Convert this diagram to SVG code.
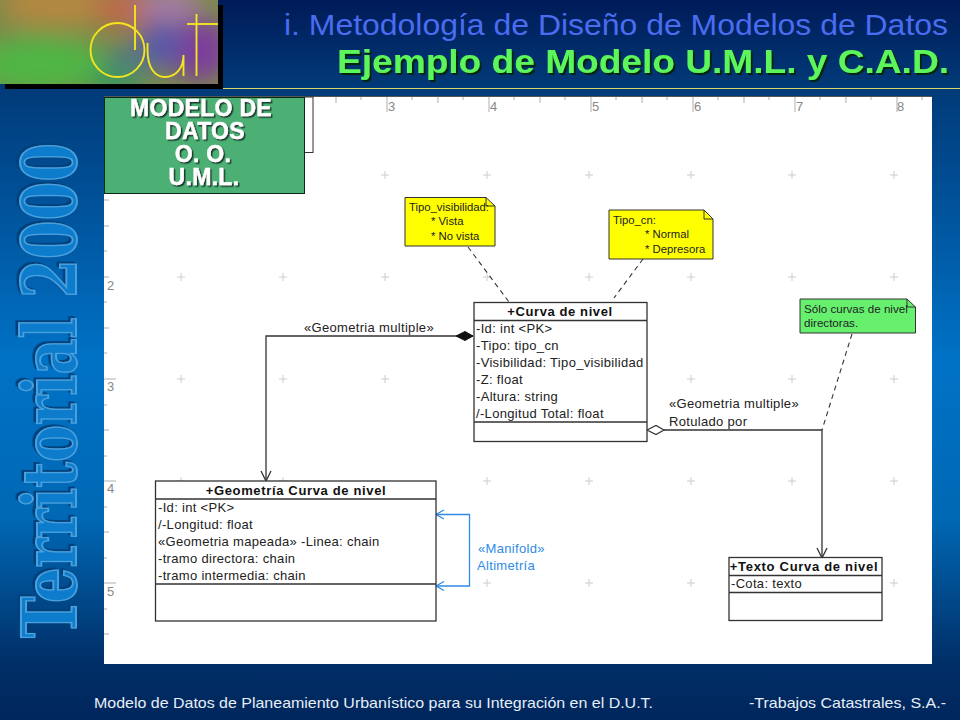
<svg xmlns="http://www.w3.org/2000/svg" width="960" height="720" viewBox="0 0 960 720">
<style>
text{font-family:"Liberation Sans",Arial,sans-serif}
.box{fill:#fff;stroke:#333;stroke-width:1.3}
.sep{stroke:#333;stroke-width:1.3;fill:none}
.t{font-size:13px;fill:#222;letter-spacing:.32px}
.h{font-size:13px;font-weight:bold;fill:#111;text-anchor:middle}
.n{font-size:11.3px;fill:#222}
.link{stroke:#333;stroke-width:1.3;fill:none}
.dash{stroke:#333;stroke-width:1.1;fill:none;stroke-dasharray:5 4}
.blue{stroke:#2f8be6;stroke-width:1.3;fill:none}
.rul{stroke:#999;stroke-width:.8;fill:none}
.rn{font-size:13px;fill:#888}
.plus{stroke:#ccc;stroke-width:1;fill:none}
.mod{font-size:23px;font-weight:bold;fill:#fff;text-anchor:middle;stroke:#fff;stroke-width:.4;letter-spacing:.3px;filter:url(#ds)}
.wm{font-family:"DejaVu Serif","Liberation Serif",serif;font-weight:bold;font-size:74px;fill:#0a7ccc;stroke:#4aa0dc;stroke-width:1.8;filter:url(#dw)}
.ttl{font-size:33.5px;font-weight:bold;fill:#5cf55c;text-anchor:end;filter:url(#dt)}
</style>
<defs>
<linearGradient id="bg" x1="0" y1="0" x2="0" y2="1">
<stop offset="0" stop-color="#001a58"/>
<stop offset=".12" stop-color="#013a78"/>
<stop offset=".5" stop-color="#0072c6"/>
<stop offset=".72" stop-color="#0068b4"/>
<stop offset=".92" stop-color="#012f68"/>
<stop offset="1" stop-color="#00265c"/>
</linearGradient>
<filter id="b" x="-30%" y="-30%" width="160%" height="160%"><feGaussianBlur stdDeviation="12"/></filter>
<filter id="ds" x="-10%" y="-10%" width="120%" height="130%"><feDropShadow dx="1.500" dy="1.500" stdDeviation=".3" flood-color="#12382a"/></filter>
<filter id="dt" x="-5%" y="-10%" width="110%" height="130%"><feDropShadow dx="2" dy="2" stdDeviation=".3" flood-color="#04280f"/></filter>
<filter id="dw" x="-5%" y="-15%" width="110%" height="130%"><feDropShadow dx="2.500" dy="-2.500" stdDeviation=".6" flood-color="#013f7c"/></filter>
<clipPath id="logo"><rect x="0" y="0" width="218" height="84"/></clipPath>
</defs>
<rect width="960" height="720" fill="url(#bg)"/>
<rect x="5" y="5" width="218" height="84" fill="#000"/>
<g clip-path="url(#logo)">
<rect width="218" height="84" fill="#7c8a4a"/>
<g filter="url(#b)">
<ellipse cx="60" cy="5" rx="60" ry="20" fill="#b8883f"/>
<ellipse cx="125" cy="8" rx="32" ry="20" fill="#c0694a"/>
<ellipse cx="40" cy="65" rx="65" ry="28" fill="#4fb645"/>
<ellipse cx="115" cy="82" rx="28" ry="12" fill="#2f9a5a"/>
<ellipse cx="170" cy="5" rx="32" ry="16" fill="#a87ca8"/>
<ellipse cx="200" cy="50" rx="30" ry="32" fill="#7d3c9c"/>
<ellipse cx="160" cy="45" rx="22" ry="26" fill="#5a58a8"/>
<ellipse cx="125" cy="60" rx="18" ry="14" fill="#4d7a80"/>
</g>
<g fill="none" stroke="#f3e51e" stroke-width="1.900">
<circle cx="117.500" cy="50" r="27"/>
<path d="M135 5V50"/>
<path d="M147.500 43V50C147.500 68 155 77 165 77C176 77 183.500 68 183.500 55V76"/>
<path d="M196.500 14V76"/>
<path d="M187 24H218"/>
</g>
</g>
<path d="M223 88.500H960" stroke="#d6d86a" stroke-width="1.2"/>
<g id="title">
<text x="948" y="35" text-anchor="end" font-size="29" fill="#4a6cf0" textLength="664" lengthAdjust="spacingAndGlyphs">i. Metodología de Diseño de Modelos de Datos</text>
<text class="ttl" x="949" y="73" textLength="612" lengthAdjust="spacingAndGlyphs">Ejemplo de Modelo U.M.L. y C.A.D.</text>
</g>
<g id="watermark">
<text class="wm" transform="translate(76,638) rotate(-90) scale(.752,1)">Territorial 2000</text>
</g>
<rect x="104" y="97" width="828" height="567" fill="#fff"/>
<path d="M104 96.500H932" stroke="#555" stroke-width="1"/>
<g id="rulers">
<path class="rul" d="M336 97v6M361 97v3M387 97v15M412 97v3M438 97v6M463 97v3M489 97v15M514 97v3M540 97v6M565 97v3M591 97v15M616 97v3M642 97v6M667 97v3M693 97v15M718 97v3M744 97v6M769 97v3M795 97v15M820 97v3M846 97v6M871 97v3M897 97v15M922 97v3"/>
<path class="rul" d="M104 200h5M104 226h5M104 251h3M104 277h5M104 302h3M104 328h5M104 353h3M104 379h12M104 405h3M104 430h5M104 456h3M104 481h12M104 507h3M104 532h5M104 558h3M104 583h12M104 609h3M104 634h5"/>
<text class="rn" x="388" y="111">3</text><text class="rn" x="490" y="111">4</text><text class="rn" x="592" y="111">5</text><text class="rn" x="694" y="111">6</text><text class="rn" x="796" y="111">7</text><text class="rn" x="897" y="111">8</text>
<text class="rn" x="107" y="290">2</text><text class="rn" x="107" y="391">3</text><text class="rn" x="107" y="493">4</text><text class="rn" x="107" y="596">5</text>
</g>
<path class="plus" d="M385 171v8M381 175h8M487 171v8M483 175h8M589 171v8M585 175h8M691 171v8M687 175h8M792 171v8M788 175h8M894 171v8M890 175h8
M181 273v8M177 277h8M283 273v8M279 277h8M385 273v8M381 277h8M487 273v8M483 277h8M589 273v8M585 277h8M691 273v8M687 277h8M792 273v8M788 277h8M894 273v8M890 277h8
M181 375v8M177 379h8M283 375v8M279 379h8M385 375v8M381 379h8M691 375v8M687 379h8M792 375v8M788 379h8M894 375v8M890 379h8
M181 477v8M177 481h8M283 477v8M279 481h8M487 477v8M483 481h8M589 477v8M585 481h8M691 477v8M687 481h8M792 477v8M788 481h8M894 477v8M890 481h8
M487 579v8M483 583h8M589 579v8M585 583h8M691 579v8M687 583h8M894 579v8M890 583h8"/>
<g id="connectors">
<path class="link" d="M473 336H266V481"/>
<path class="link" d="M261 471L266 481L271 471"/>
<path d="M456 336L465 331.500L473 336L465 340.500Z" fill="#111" stroke="#111"/>
<path class="link" d="M664 430H822V558"/>
<path class="link" d="M817 548L822 558L827 548"/>
<path d="M647 430L656 425.500L664 430L656 434.500Z" fill="#fff" stroke="#333" stroke-width="1.200"/>
<path class="dash" d="M468 247L509 302"/>
<path class="dash" d="M643 259L614 298"/>
<path class="dash" d="M852 334L822 430" stroke-dasharray="4 3.500"/>
<path class="blue" d="M436 514.500H469.500V586H436"/>
<path class="blue" d="M444 510L436 514.500L444 519M444 581.500L436 586L444 590.500"/>
<text class="t" x="304" y="332">«Geometria multiple»</text>
<text class="t" x="669" y="408">«Geometria multiple»</text>
<text class="t" x="669" y="426">Rotulado por</text>
<text class="t" x="478" y="553" style="fill:#2f8be6">«Manifold»</text>
<text class="t" x="477" y="570" style="fill:#2f8be6">Altimetría</text>
</g>
<g id="note-visibilidad">
<path d="M405 197.500H486L495 206V246H405Z" fill="#ffff00" stroke="#333"/>
<path d="M486 197.500V206H495" fill="none" stroke="#333"/>
<text class="n" x="409" y="211">Tipo_visibilidad:</text><text class="n" x="431" y="225">* Vista</text><text class="n" x="431" y="240">* No vista</text>
</g>
<g id="note-tipo">
<path d="M609 210H704L713 219V259H609Z" fill="#ffff00" stroke="#333"/>
<path d="M704 210V219H713" fill="none" stroke="#333"/>
<text class="n" x="613" y="224">Tipo_cn:</text><text class="n" x="645" y="238">* Normal</text><text class="n" x="645" y="253">* Depresora</text>
</g>
<g id="note-directoras">
<path d="M800 299H907L915.500 307V333H800Z" fill="#66f06e" stroke="#333"/>
<path d="M907 299V307H915.500" fill="none" stroke="#333"/>
<text class="n" x="804" y="313" style="font-size:11.6px">Sólo curvas de nivel</text><text class="n" x="804" y="327" style="font-size:11.6px">directoras.</text>
</g>
<g id="curva-de-nivel">
<rect class="box" x="474" y="302.500" width="173" height="139"/>
<path class="sep" d="M474 320.500H647M474 422H647"/>
<text class="h" x="560" y="316" style="letter-spacing:.6px">+Curva de nivel</text>
<text class="t" x="476" y="333">-Id: int &lt;PK&gt;</text>
<text class="t" x="476" y="350">-Tipo: tipo_cn</text>
<text class="t" x="476" y="367">-Visibilidad: Tipo_visibilidad</text>
<text class="t" x="476" y="384">-Z: float</text>
<text class="t" x="476" y="401">-Altura: string</text>
<text class="t" x="476" y="418">/-Longitud Total: float</text>
</g>
<g id="geometria-curva">
<rect class="box" x="155.500" y="481" width="280.500" height="140"/>
<path class="sep" d="M155.500 499H436M155.500 584H436"/>
<text class="h" x="296" y="495" style="letter-spacing:.65px">+Geometría Curva de nivel</text>
<text class="t" x="158" y="512">-Id: int &lt;PK&gt;</text>
<text class="t" x="158" y="529">/-Longitud: float</text>
<text class="t" x="158" y="546">«Geometria mapeada» -Linea: chain</text>
<text class="t" x="158" y="563">-tramo directora: chain</text>
<text class="t" x="158" y="580">-tramo intermedia: chain</text>
</g>
<g id="texto-curva">
<rect class="box" x="729" y="557.500" width="153" height="63"/>
<path class="sep" d="M729 575.500H882M729 592.500H882"/>
<text class="h" x="804" y="571" style="letter-spacing:.7px">+Texto Curva de nivel</text>
<text class="t" x="731" y="588">-Cota: texto</text>
</g>
<g id="modelo-label">
<rect x="304" y="97" width="9" height="55.500" fill="#fff" stroke="#333"/>
<rect x="104.500" y="97.500" width="200" height="96" fill="#4caf73" stroke="#0a2a18"/>
<text class="mod"><tspan x="201" y="116">MODELO DE</tspan><tspan x="205" y="139">DATOS</tspan><tspan x="203" y="162">O. O.</tspan><tspan x="204" y="185">U.M.L.</tspan></text>
</g>
<g id="footer" fill="#e6eef8">
<text x="94" y="708" font-size="15" textLength="559" lengthAdjust="spacingAndGlyphs">Modelo de Datos de Planeamiento Urbanístico para su Integración en el D.U.T.</text>
<text x="749" y="708" font-size="15" textLength="197" lengthAdjust="spacingAndGlyphs">-Trabajos Catastrales, S.A.-</text>
</g>
</svg>
